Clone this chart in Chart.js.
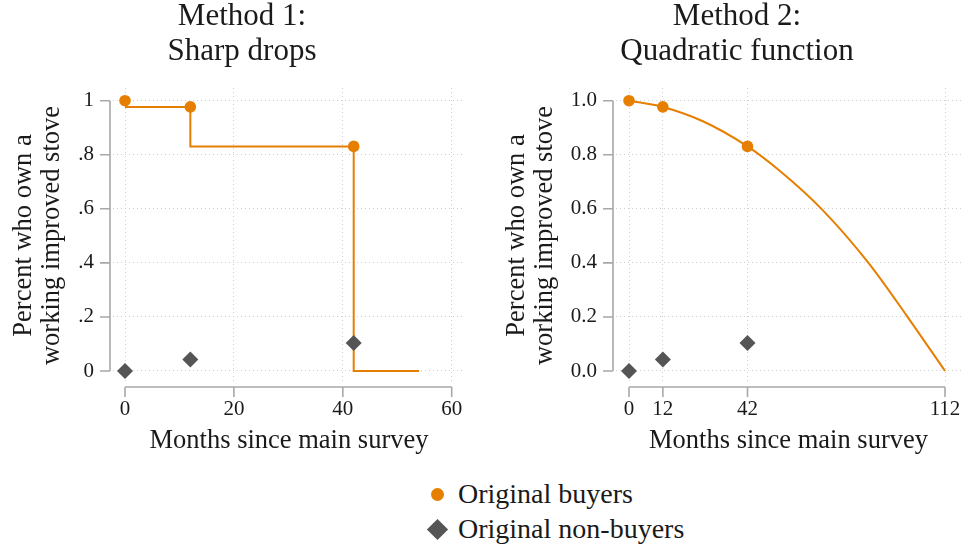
<!DOCTYPE html>
<html>
<head>
<meta charset="utf-8">
<script src="https://cdn.jsdelivr.net/npm/chart.js@4.4.1/dist/chart.umd.min.js"></script>
<style>
  html, body { margin: 0; padding: 0; background: #ffffff; }
  body { width: 963px; height: 550px; position: relative; overflow: hidden; font-family: "Liberation Serif", serif; color: #1a1a1a; }
  .panel { position: absolute; top: 0; width: 481px; height: 470px; }
  #leftPanel { left: 0; }
  #rightPanel { left: 482px; }
  .legend { position: absolute; left: 424px; font-size: 28px; line-height: 28px; white-space: nowrap; }
  .legend .txt { position: absolute; left: 34px; top: 0; }
  .dot { position: absolute; left: 7px; top: 8px; width: 13px; height: 13px; border-radius: 50%; background: #e67e00; }
  .dia { position: absolute; left: 6px; top: 7px; width: 15px; height: 15px; background: #555555; transform: rotate(45deg); }
</style>
</head>
<body>
<div class="panel" id="leftPanel"><canvas id="chartSharp"></canvas></div>
<div class="panel" id="rightPanel"><canvas id="chartQuad"></canvas></div>
<div class="legend" style="top:480px"><span class="dot"></span><span class="txt">Original buyers</span></div>
<div class="legend" style="top:515px"><span class="dia"></span><span class="txt">Original non-buyers</span></div>

<script>
// Survey rounds (months since the main survey)
const surveyMonths = [0, 12, 42];
// Share still owning a working improved stove
const buyersShare = [1.0, 0.977, 0.831];
const nonBuyersShare = [0.0, 0.043, 0.104];

// Method 1: ownership held flat, then dropping sharply at each survey round
const sharpMonths = [0, 12, 42, 54];
const sharpShare = [0.977, 0.831, 0.0, 0.0];

// Method 2: quadratic decay curve through the observed rounds
const quadMonths = [0, 12, 26, 42, 53.5, 68.3, 84.8, 98.4, 112];
const quadShare = [1.0, 0.977, 0.925, 0.831, 0.740, 0.599, 0.401, 0.205, 0.0];

// Axis ticks
const yTicks = [0, 0.2, 0.4, 0.6, 0.8, 1.0];
const xTicksSharp = [0, 20, 40, 60];
const xTicksQuad = [0, 12, 42, 112];

const ORANGE = '#e67e00';
const GREY_MARK = '#555555';
const AXIS_GREY = '#a8a8a8';
const GRID_GREY = '#cfcfcf';
const FONT = 'Liberation Serif';

const pts = (xs, ys) => xs.map((x, i) => ({ x: x, y: ys[i] }));

// Axis lines that span only the tick range, offset from the plot region
const offsetAxes = {
  id: 'offsetAxes',
  afterDraw(chart) {
    const { ctx, chartArea, scales } = chart;
    const xs = scales.x, ys = scales.y;
    const xTickVals = xs.ticks.map(t => t.value);
    const yTickVals = ys.ticks.map(t => t.value);
    ctx.save();
    ctx.strokeStyle = AXIS_GREY;
    ctx.lineWidth = 1.6;
    ctx.setLineDash([]);
    // y axis
    const ax = chartArea.left - 3;
    ctx.beginPath();
    ctx.moveTo(ax, ys.getPixelForValue(Math.min(...yTickVals)));
    ctx.lineTo(ax, ys.getPixelForValue(Math.max(...yTickVals)));
    yTickVals.forEach(v => {
      const py = ys.getPixelForValue(v);
      ctx.moveTo(ax, py);
      ctx.lineTo(ax - 10, py);
    });
    // x axis
    const ay = chartArea.bottom + 4;
    ctx.moveTo(xs.getPixelForValue(Math.min(...xTickVals)), ay);
    ctx.lineTo(xs.getPixelForValue(Math.max(...xTickVals)), ay);
    xTickVals.forEach(v => {
      const px = xs.getPixelForValue(v);
      ctx.moveTo(px, ay);
      ctx.lineTo(px, ay + 10);
    });
    ctx.stroke();
    ctx.restore();
  }
};

// Two-line panel heading
const panelHeading = {
  id: 'panelHeading',
  afterDraw(chart, args, opts) {
    const { ctx } = chart;
    ctx.save();
    ctx.fillStyle = '#1a1a1a';
    ctx.font = '31px "' + FONT + '"';
    ctx.textAlign = 'center';
    ctx.textBaseline = 'alphabetic';
    opts.lines.forEach((line, i) => ctx.fillText(line, opts.x, opts.baselines[i]));
    ctx.restore();
  }
};

function makePanel(canvasId, cfg) {
  return new Chart(document.getElementById(canvasId), {
    type: 'scatter',
    data: { datasets: cfg.datasets },
    options: {
      responsive: true,
      maintainAspectRatio: false,
      animation: false,
      events: [],
      layout: { autoPadding: false, padding: { top: 88, right: cfg.rightPad, bottom: 0, left: 0 } },
      plugins: {
        legend: { display: false },
        tooltip: { enabled: false },
        title: { display: false },
        panelHeading: cfg.heading
      },
      scales: {
        x: {
          type: 'linear',
          min: cfg.xMin, max: cfg.xMax,
          afterBuildTicks: s => { s.ticks = cfg.xTicks.map(v => ({ value: v })); },
          afterFit: s => { s.height = 87; s.paddingLeft = 0; s.paddingRight = 0; },
          grid: { color: GRID_GREY, lineWidth: 1, drawTicks: false },
          border: { display: false, dash: [1, 3] },
          ticks: {
            padding: 14,
            color: '#1a1a1a',
            font: { family: FONT, size: 21 },
            maxRotation: 0,
            autoSkip: false,
            callback: v => String(v)
          },
          title: {
            display: true,
            text: 'Months since main survey',
            color: '#1a1a1a',
            font: { family: FONT, size: 26.5, lineHeight: 1.0 },
            padding: { top: 0, bottom: 16 }
          }
        },
        y: {
          type: 'linear',
          min: -0.0444, max: 1.047,
          afterBuildTicks: s => { s.ticks = yTicks.map(v => ({ value: v })); },
          afterFit: s => { s.width = cfg.yWidth; s.paddingTop = 0; s.paddingBottom = 0; },
          grid: { color: GRID_GREY, lineWidth: 1, drawTicks: false },
          border: { display: false, dash: [1, 3] },
          ticks: {
            padding: 19,
            color: '#1a1a1a',
            font: { family: FONT, size: 21 },
            callback: cfg.yLabel
          },
          title: {
            display: true,
            text: ['Percent who own a', 'working improved stove'],
            color: '#1a1a1a',
            font: { family: FONT, size: 26.5, lineHeight: 1.05 },
            padding: { top: cfg.yTitlePad, bottom: 0 }
          }
        }
      }
    },
    plugins: [offsetAxes, panelHeading]
  });
}

const buyersSet = {
  label: 'Original buyers',
  pointStyle: 'circle',
  pointRadius: 5.8,
  backgroundColor: ORANGE,
  borderColor: ORANGE,
  borderWidth: 0,
  showLine: false,
  order: 1
};
const nonBuyersSet = {
  label: 'Original non-buyers',
  pointStyle: 'rectRot',
  pointRadius: 8,
  backgroundColor: GREY_MARK,
  borderColor: GREY_MARK,
  borderWidth: 0,
  showLine: false,
  order: 1
};

makePanel('chartSharp', {
  rightPad: 16,
  yWidth: 113,
  yTitlePad: 10,
  xMin: -2.204, xMax: 62.44,
  xTicks: xTicksSharp,
  yLabel: v => (v === 0 ? '0' : v === 1 ? '1' : String(Number(v.toFixed(1))).replace(/^0/, '')),
  heading: { lines: ['Method 1:', 'Sharp drops'], x: 242, baselines: [24.5, 59.5] },
  datasets: [
    {
      label: 'Sharp drops',
      data: pts(sharpMonths, sharpShare),
      showLine: true,
      stepped: 'before',
      borderColor: ORANGE,
      borderWidth: 2,
      pointRadius: 0,
      fill: false,
      order: 2
    },
    Object.assign({}, buyersSet, { data: pts(surveyMonths, buyersShare) }),
    Object.assign({}, nonBuyersSet, { data: pts(surveyMonths, nonBuyersShare) })
  ]
});

makePanel('chartQuad', {
  rightPad: 2,
  yWidth: 134,
  yTitlePad: 21,
  xMin: -4.608, xMax: 117.67,
  xTicks: xTicksQuad,
  yLabel: v => v.toFixed(1),
  heading: { lines: ['Method 2:', 'Quadratic function'], x: 255, baselines: [24.5, 59.5] },
  datasets: [
    {
      label: 'Quadratic function',
      data: pts(quadMonths, quadShare),
      showLine: true,
      cubicInterpolationMode: 'monotone',
      borderColor: ORANGE,
      borderWidth: 2,
      pointRadius: 0,
      fill: false,
      order: 2
    },
    Object.assign({}, buyersSet, { data: pts(surveyMonths, buyersShare) }),
    Object.assign({}, nonBuyersSet, { data: pts(surveyMonths, nonBuyersShare) })
  ]
});
</script>
</body>
</html>
